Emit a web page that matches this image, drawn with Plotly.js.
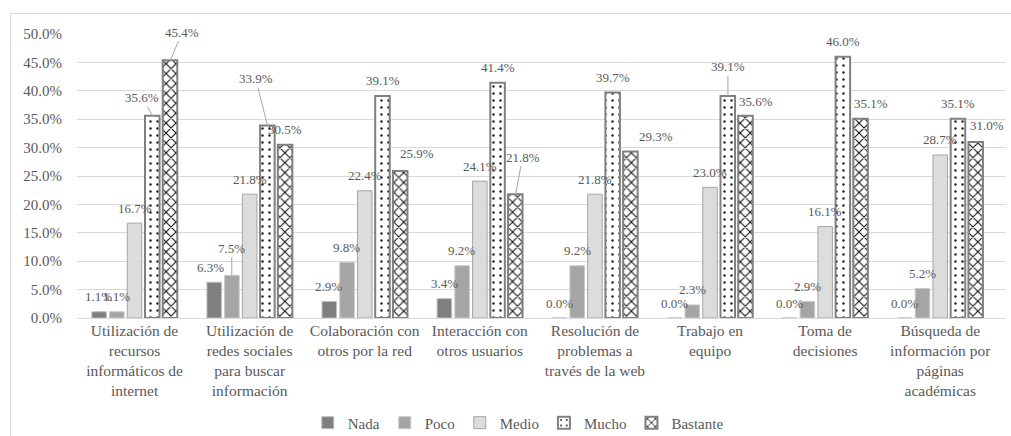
<!DOCTYPE html>
<html>
<head>
<meta charset="utf-8">
<script src="https://cdn.plot.ly/plotly-3.0.1.min.js"></script>
<style>
  html, body { margin: 0; padding: 0; background: #ffffff; }
  #chart { position: absolute; left: 0; top: 0; width: 1011px; height: 436px; }
  #frame { position: absolute; left: 10px; top: 13px; width: 1100px; height: 500px;
           border: 1px solid #d9d9d9; pointer-events: none; }
</style>
</head>
<body>
<div id="chart"></div>
<div id="frame"></div>
<script>
// ---- data ----
const categories = [
  "Utilización de<br>recursos<br>informáticos de<br>internet",
  "Utilización de<br>redes sociales<br>para buscar<br>información",
  "Colaboración con<br>otros por la red",
  "Interacción con<br>otros usuarios",
  "Resolución de<br>problemas a<br>través de la web",
  "Trabajo en<br>equipo",
  "Toma de<br>decisiones",
  "Búsqueda de<br>información por<br>páginas<br>académicas"
];
const seriesNames = ["Nada", "Poco", "Medio", "Mucho", "Bastante"];
const nada     = [1.1, 6.3, 2.9, 3.4, 0.0, 0.0, 0.0, 0.0];
const poco     = [1.1, 7.5, 9.8, 9.2, 9.2, 2.3, 2.9, 5.2];
const medio    = [16.7, 21.8, 22.4, 24.1, 21.8, 23.0, 16.1, 28.7];
const mucho    = [35.6, 33.9, 39.1, 41.4, 39.7, 39.1, 46.0, 35.1];
const bastante = [45.4, 30.5, 25.9, 21.8, 29.3, 35.6, 35.1, 31.0];
const seriesValues = [nada, poco, medio, mucho, bastante];
const yTickVals = [0, 5, 10, 15, 20, 25, 30, 35, 40, 45, 50];

// ---- styling ----
const FONT = "Liberation Serif";
const TEXT = "#595959";
const styles = [
  { color: "#7f7f7f", line: { color: "#bfbfbf", width: 1 } },
  { color: "#a5a5a5", line: { color: "#c8c8c8", width: 1 } },
  { color: "#dcdcdc", line: { color: "#a6a6a6", width: 1 } },
  { color: "#ffffff", line: { color: "#808080", width: 2 },
    pattern: { shape: ".", fgcolor: "#222222", bgcolor: "#ffffff", size: 7, solidity: 0.1 } },
  { color: "#ffffff", line: { color: "#808080", width: 2 },
    pattern: { shape: "x", fgcolor: "#111111", bgcolor: "#ffffff", size: 7, solidity: 0.28 } }
];

// label placement tweaks (pixel offsets of the text from the bar top)
const labelNudges = [
  { g: 0, s: 3, ax: -10, ay: -18, line: true },
  { g: 0, s: 4, ax: 12, ay: -28, line: true },
  { g: 1, s: 0, ax: -3, ay: -15 },
  { g: 1, s: 1, ax: 0, ay: -27, line: true },
  { g: 1, s: 3, ax: -12, ay: -47, line: true },
  { g: 2, s: 4, ax: 16, ay: -17 },
  { g: 3, s: 4, ax: 7, ay: -37, line: true },
  { g: 4, s: 4, ax: 25, ay: -15 },
  { g: 5, s: 3, ax: 0, ay: -29, line: true },
  { g: 5, s: 4, ax: 10, ay: -14 },
  { g: 6, s: 4, ax: 10, ay: -15 },
  { g: 7, s: 4, ax: 11, ay: -16 }
];

const W = 1011, H = 436;
const margin = { l: 77, r: 5, t: 34, b: 118 };
const bargap = 0.23, bargroupgap = 0.18;
const plotW = W - margin.l - margin.r;
const slot = (plotW / categories.length) * (1 - bargap) / seriesNames.length;

const traces = seriesNames.map((name, s) => ({
  type: "bar",
  name: name,
  x: categories,
  y: seriesValues[s],
  marker: styles[s],
  hoverinfo: "skip"
}));

const annotations = [];
seriesValues.forEach((vals, s) => {
  vals.forEach((v, g) => {
    const n = labelNudges.find(o => o.g === g && o.s === s) || { ax: 0, ay: -15 };
    const base = {
      x: g, y: v, xref: "x", yref: "y",
      text: v.toFixed(1) + "%",
      font: { family: FONT, size: 13, color: TEXT },
      xanchor: "center", yanchor: "middle"
    };
    const shift = (s - (seriesNames.length - 1) / 2) * slot;
    if (n.line) {
      annotations.push(Object.assign(base, {
        xshift: shift, showarrow: true, arrowhead: 0, arrowwidth: 1,
        arrowcolor: "#a6a6a6", ax: n.ax, ay: n.ay, standoff: 0
      }));
    } else {
      annotations.push(Object.assign(base, {
        xshift: shift + n.ax, yshift: -n.ay, showarrow: false
      }));
    }
  });
});

const layout = {
  width: W, height: H,
  margin: margin,
  paper_bgcolor: "#ffffff",
  plot_bgcolor: "#ffffff",
  barmode: "group",
  bargap: bargap,
  bargroupgap: bargroupgap,
  font: { family: FONT, color: TEXT, size: 14 },
  xaxis: {
    type: "category",
    showgrid: false,
    showline: false,
    ticks: "",
    tickfont: { family: FONT, size: 15.5, color: TEXT },
    ticklabelstandoff: 1,
    automargin: false,
    fixedrange: true
  },
  yaxis: {
    range: [0, 50],
    tickvals: yTickVals,
    ticktext: yTickVals.map(v => v.toFixed(1) + "%"),
    showgrid: true,
    gridcolor: "#d9d9d9",
    gridwidth: 1,
    zeroline: true,
    zerolinecolor: "#d9d9d9",
    zerolinewidth: 1,
    showline: false,
    ticks: "",
    ticklabelstandoff: 14,
    automargin: false,
    tickfont: { family: FONT, size: 15, color: TEXT },
    fixedrange: true
  },
  showlegend: true,
  legend: {
    orientation: "h",
    xref: "paper", x: 0.475, xanchor: "center",
    yref: "container", y: 0.03, yanchor: "middle",
    font: { family: FONT, size: 15, color: TEXT },
    itemwidth: 30,
    traceorder: "normal",
    bgcolor: "rgba(0,0,0,0)"
  },
  annotations: annotations
};

Plotly.newPlot("chart", traces, layout, { displayModeBar: false, staticPlot: true });
</script>
</body>
</html>
